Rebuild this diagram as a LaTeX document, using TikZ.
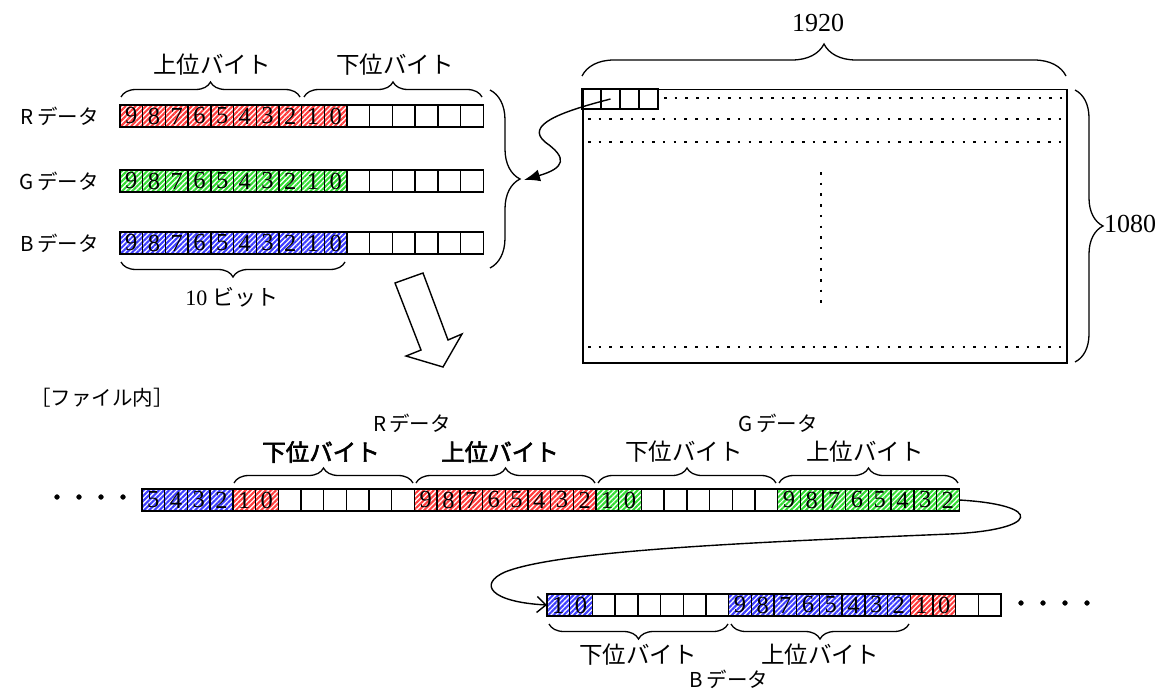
\documentclass[tikz,border=0pt]{standalone}
\usepackage{fontspec}
\setmainfont{Liberation Serif}
\newfontfamily\jpfont{Noto Sans CJK JP}
\newfontfamily\jpbfont[FakeBold=2.5]{Noto Sans CJK JP}
\usetikzlibrary{patterns.meta,decorations.pathreplacing,arrows.meta}
\definecolor{hred}{RGB}{255,60,60}
\definecolor{hgreen}{RGB}{50,220,50}
\definecolor{hblue}{RGB}{60,60,255}
\tikzset{
  cell/.style={draw, line width=1.4pt, minimum width=22.7pt, minimum height=22pt,
    inner sep=0pt, outer sep=0pt, anchor=north west, font=\fontsize{24.5}{24}\selectfont,
    pattern={Lines[angle=45,distance=3.6pt,line width=2.1pt]}},
  fcell/.style={draw, line width=1.4pt, minimum width=19pt, minimum height=20pt,
    inner sep=0pt, outer sep=0pt, anchor=north west},
  brc/.style={decorate, decoration={brace, amplitude=#1}, line width=1.3pt},
  brc/.default=15pt,
  lab/.style={font=\jpfont\fontsize{20.5}{24}\selectfont, inner sep=0pt},
  blab/.style={font=\jpfont\fontsize{23.5}{26}\selectfont, inner sep=0pt},
  bblab/.style={font=\jpbfont\fontsize{23.5}{26}\selectfont, inner sep=0pt},
  dots/.style={font=\jpbfont\fontsize{22}{24}\selectfont, inner sep=0pt},
  dotln/.style={line width=2.5pt, dash pattern=on 2.5pt off 8.2pt},
  num/.style={font=\fontsize{26}{26}\selectfont, inner sep=0pt},
  conn/.style={line width=1.4pt},
}
\begin{document}
\begin{tikzpicture}[x=1pt,y=-1pt]
\useasboundingbox (0,0) rectangle (1158,690);

% ---- top rows ----
\foreach \vv/\cc [count=\k from 0] in {9/hred,8/hred,7/hred,6/hred,5/hred,4/hred,3/hred,2/hred,1/hred,0/hred,{}/white,{}/white,{}/white,{}/white,{}/white,{}/white}
  \node[cell, pattern color=\cc] (r\k) at ({120+22.7*\k},105) {\vv};
\foreach \vv/\cc [count=\k from 0] in {9/hgreen,8/hgreen,7/hgreen,6/hgreen,5/hgreen,4/hgreen,3/hgreen,2/hgreen,1/hgreen,0/hgreen,{}/white,{}/white,{}/white,{}/white,{}/white,{}/white}
  \node[cell, pattern color=\cc] (g\k) at ({120+22.7*\k},170) {\vv};
\foreach \vv/\cc [count=\k from 0] in {9/hblue,8/hblue,7/hblue,6/hblue,5/hblue,4/hblue,3/hblue,2/hblue,1/hblue,0/hblue,{}/white,{}/white,{}/white,{}/white,{}/white,{}/white}
  \node[cell, pattern color=\cc] (b\k) at ({120+22.7*\k},232) {\vv};

\node[lab, anchor=east] (rlab) at (99,116) {R\,データ};
\node[lab, anchor=east] (glab) at (99,181) {G\,データ};
\node[lab, anchor=east] (blab) at (99,243) {B\,データ};

\draw[brc] (121,97) -- (300,97);
\draw[brc] (304,97) -- (482,97);
\node[blab] (hiT) at (212,65) {上位バイト};
\node[blab] (loT) at (395,65) {下位バイト};
\draw[brc] (345,262) -- (121,262);
\node[inner sep=0pt] (tenb) at (232,297) {\fontsize{22}{24}\selectfont 10 {\jpfont\fontsize{22}{24}\selectfont ビット}};
\draw[brc=30pt] (490,90) -- (490,268);
\coordinate (bt) at (524,180);

% ---- frame ----
\node[draw, line width=1.5pt, minimum width=484pt, minimum height=273pt, inner sep=0pt, anchor=north west] (frame) at (582,89) {};
\foreach \k in {0,...,3}
  \node[fcell] (fc\k) at ({582+19*\k},89) {};
\draw[dotln] (664,98) -- (1064,98);
\draw[dotln] (588,119) -- (1064,119);
\draw[dotln] (588,142) -- (1064,142);
\draw[dotln] (588,347) -- (1064,347);
\draw[dotln] (821,172) -- (821,305);
\draw[brc=32pt] (582,76) -- (1066,76);
\node[num] (w1920) at (818,23) {1920};
\draw[brc=28pt] (1075,90) -- (1075,362);
\node[num, anchor=west] (h1080) at (1104,224) {1080};

\draw[conn, -{Latex[length=16pt,width=12pt]}] (fc1.center) .. controls (560,112) and (525,125) .. (545,142) .. controls (568,158) and (565,168) .. (bt);

% ---- hollow arrow ----
\draw[line width=1.4pt, line join=miter] (395,283) -- (423,273) -- (448,340) -- (462,334) -- (443,367) -- (406,356) -- (421,350) -- cycle;

% ---- file ----
\node[lab, anchor=west] (file) at (30,398) {［ファイル内］};
\node[dots] (ldots) at (90,500) {・・・・};
\foreach \vv/\cc [count=\k from 0] in {5/hblue,4/hblue,3/hblue,2/hblue,1/hred,0/hred,{}/white,{}/white,{}/white,{}/white,{}/white,{}/white,9/hred,8/hred,7/hred,6/hred,5/hred,4/hred,3/hred,2/hred,1/hgreen,0/hgreen,{}/white,{}/white,{}/white,{}/white,{}/white,{}/white,9/hgreen,8/hgreen,7/hgreen,6/hgreen,5/hgreen,4/hgreen,3/hgreen,2/hgreen}
  \node[cell, pattern color=\cc] (f\k) at ({142+22.7*\k},489) {\vv};
\draw[brc] (234,483) -- (413,483);
\draw[brc] (416,483) -- (595,483);
\draw[brc] (598,483) -- (776,483);
\draw[brc] (779,483) -- (958,483);
\node[bblab] (rlo) at (321,452) {下位バイト};
\node[bblab] (rhi) at (500,452) {上位バイト};
\node[blab] (glo) at (684,452) {下位バイト};
\node[blab] (ghi) at (865,452) {上位バイト};
\node[lab] (rdat) at (412,423) {R\,データ};
\node[lab] (gdat) at (778,423) {G\,データ};

\foreach \vv/\cc [count=\k from 0] in {1/hblue,0/hblue,{}/white,{}/white,{}/white,{}/white,{}/white,{}/white,9/hblue,8/hblue,7/hblue,6/hblue,5/hblue,4/hblue,3/hblue,2/hblue,1/hred,0/hred,{}/white,{}/white}
  \node[cell, pattern color=\cc] (q\k) at ({547+22.7*\k},594) {\vv};
\node[dots] (rdots) at (1054,606) {・・・・};
\draw[brc] (728,624) -- (549,624);
\draw[brc] (909,624) -- (731,624);
\node[blab] (blo) at (638,655) {下位バイト};
\node[blab] (bhi) at (820,655) {上位バイト};
\node[lab] (bdat) at (729,679) {B\,データ};

\draw[conn, -{Straight Barb[length=9pt,width=16pt]}] (f35.east) .. controls (1045,505) and (1040,530) .. (950,534) .. controls (760,542) and (560,550) .. (505,572) .. controls (478,584) and (490,602) .. (q0.west);
\end{tikzpicture}
\end{document}
